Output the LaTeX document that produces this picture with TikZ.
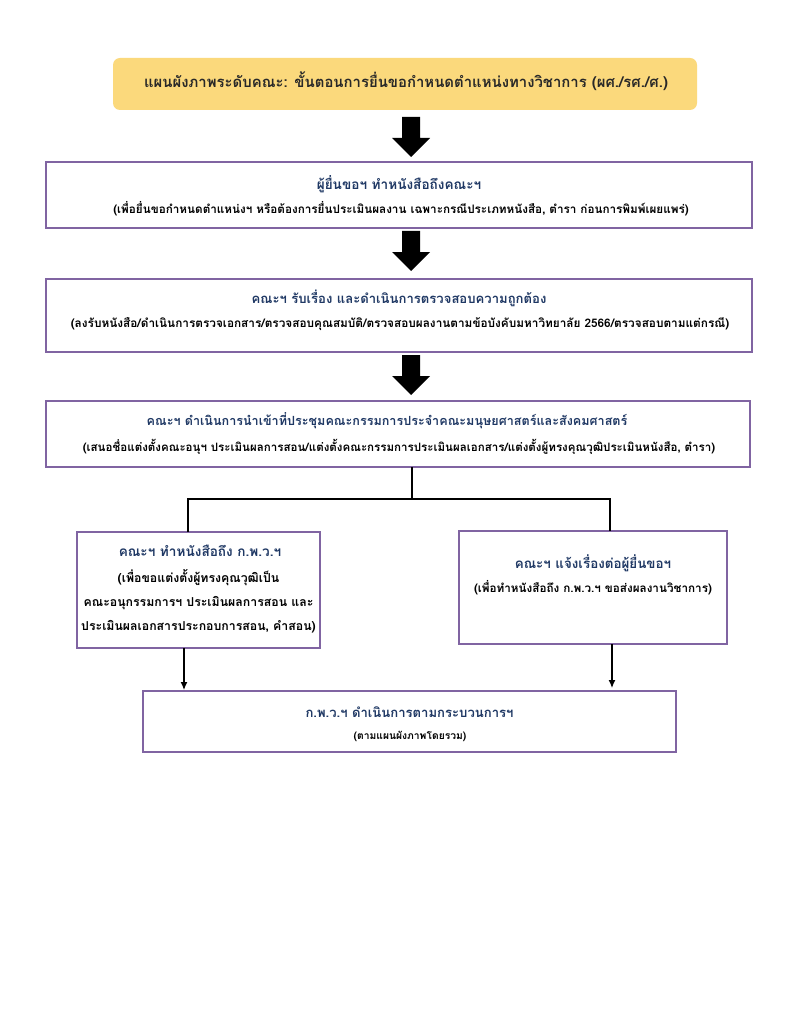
\documentclass[tikz,border=0pt]{standalone}
\usepackage{fontspec}
\usetikzlibrary{arrows.meta}
\newfontfamily\thai[Script=Thai]{Loma}
\definecolor{boxline}{RGB}{128,100,162}
\definecolor{titlefill}{RGB}{251,217,124}
\definecolor{headblue}{RGB}{31,56,100}
\definecolor{titletext}{RGB}{40,40,40}
\newcommand{\fsz}[1]{\fontsize{#1}{#1}\selectfont}
\begin{document}
\begin{tikzpicture}[x=1pt,y=-1pt,
  stepbox/.style={draw=boxline,line width=1.3pt,fill=white,inner sep=0pt},
  headtxt/.style={font=\thai\bfseries\fsz{13.1},text=headblue,inner sep=0pt},
  subtxt/.style={font=\thai\bfseries\fsz{11.7},text=black,inner sep=0pt},
  blockarrow/.style={fill=black,draw=none},
  link/.style={draw=black,line width=1.3pt},
  linkarrow/.style={draw=black,line width=1.3pt,-{Latex[length=8pt,width=7pt]}}]
\useasboundingbox (0,0) rectangle (791,1024);
\fill[white] (0,0) rectangle (791,1024);

% title
\node[fill=titlefill,rounded corners=7pt,minimum width=584pt,minimum height=52pt,inner sep=0pt] (title) at (405,84) {};
\node[font=\thai\bfseries\fsz{14.9},text=titletext,inner sep=0pt] (titletxt) at (406,81) {แผนผังภาพระดับคณะ: ขั้นตอนการยื่นขอกำหนดตำแหน่งทางวิชาการ (ผศ./รศ./ศ.)};

% boxes
\node[stepbox,minimum width=706pt,minimum height=66pt] (b1) at (399,195) {};
\node[headtxt,font=\thai\bfseries\fsz{13.6}] (b1h) at (399,184) {ผู้ยื่นขอฯ ทำหนังสือถึงคณะฯ};
\node[subtxt] (b1s) at (401,209) {(เพื่อยื่นขอกำหนดตำแหน่งฯ หรือต้องการยื่นประเมินผลงาน เฉพาะกรณีประเภทหนังสือ, ตำรา ก่อนการพิมพ์เผยแพร่)};

\node[stepbox,minimum width=706pt,minimum height=73pt] (b2) at (399,315.5) {};
\node[headtxt] (b2h) at (399,298) {คณะฯ รับเรื่อง และดำเนินการตรวจสอบความถูกต้อง};
\node[subtxt,font=\thai\bfseries\fsz{11.8}] (b2s) at (400,324) {(ลงรับหนังสือ/ดำเนินการตรวจเอกสาร/ตรวจสอบคุณสมบัติ/ตรวจสอบผลงานตามข้อบังคับมหาวิทยาลัย 2566/ตรวจสอบตามแต่กรณี)};

\node[stepbox,minimum width=704pt,minimum height=66pt] (b3) at (398,434) {};
\node[headtxt,font=\thai\bfseries\fsz{12.6}] (b3h) at (387,421) {คณะฯ ดำเนินการนำเข้าที่ประชุมคณะกรรมการประจำคณะมนุษยศาสตร์และสังคมศาสตร์};
\node[subtxt,font=\thai\bfseries\fsz{11.55}] (b3s) at (399,447) {(เสนอชื่อแต่งตั้งคณะอนุฯ ประเมินผลการสอน/แต่งตั้งคณะกรรมการประเมินผลเอกสาร/แต่งตั้งผู้ทรงคุณวุฒิประเมินหนังสือ, ตำรา)};

\node[stepbox,minimum width=243pt,minimum height=116pt] (b4) at (198.5,590) {};
\node[headtxt,font=\thai\bfseries\fsz{13.6}] (b4h) at (200,551) {คณะฯ ทำหนังสือถึง ก.พ.ว.ฯ};
\node[subtxt,font=\thai\bfseries\fsz{12.3}] (b4a) at (198.5,578) {(เพื่อขอแต่งตั้งผู้ทรงคุณวุฒิเป็น};
\node[subtxt,font=\thai\bfseries\fsz{12.3}] (b4b) at (198.5,603) {คณะอนุกรรมการฯ ประเมินผลการสอน และ};
\node[subtxt,font=\thai\bfseries\fsz{12.3}] (b4c) at (198.5,627) {ประเมินผลเอกสารประกอบการสอน, คำสอน)};

\node[stepbox,minimum width=268pt,minimum height=113pt] (b5) at (593,587.5) {};
\node[headtxt,font=\thai\bfseries\fsz{13.4}] (b5h) at (593,563) {คณะฯ แจ้งเรื่องต่อผู้ยื่นขอฯ};
\node[subtxt] (b5s) at (593,588) {(เพื่อทำหนังสือถึง ก.พ.ว.ฯ ขอส่งผลงานวิชาการ)};

\node[stepbox,minimum width=533pt,minimum height=61pt] (b6) at (409.5,721.5) {};
\node[headtxt] (b6h) at (409.5,712) {ก.พ.ว.ฯ ดำเนินการตามกระบวนการฯ};
\node[subtxt,font=\thai\bfseries\fsz{10.3}] (b6s) at (410,736) {(ตามแผนผังภาพโดยรวม)};

% block arrows
\foreach \t/\b in {117/157, 231/271, 355/395}{
  \fill[blockarrow] (402,\t) -- (420,\t) -- (420,\t+21) -- (430,\t+21) -- (411,\b) -- (392,\t+21) -- (402,\t+21) -- cycle;
}

% split connector
\coordinate (s0) at (412,467);
\coordinate (s1) at (412,499);
\coordinate (l0) at (188,532);
\coordinate (r0) at (610,531);
\draw[link] (s0) -- (s1);
\draw[link] (s1) -| (l0);
\draw[link] (s1) -| (r0);

% arrows to final box
\coordinate (la) at (184,648);
\coordinate (lb) at (184,690);
\coordinate (ra) at (612,644);
\coordinate (rb) at (612,688);
\draw[linkarrow] (la) -- (lb);
\draw[linkarrow] (ra) -- (rb);
\end{tikzpicture}
\end{document}
